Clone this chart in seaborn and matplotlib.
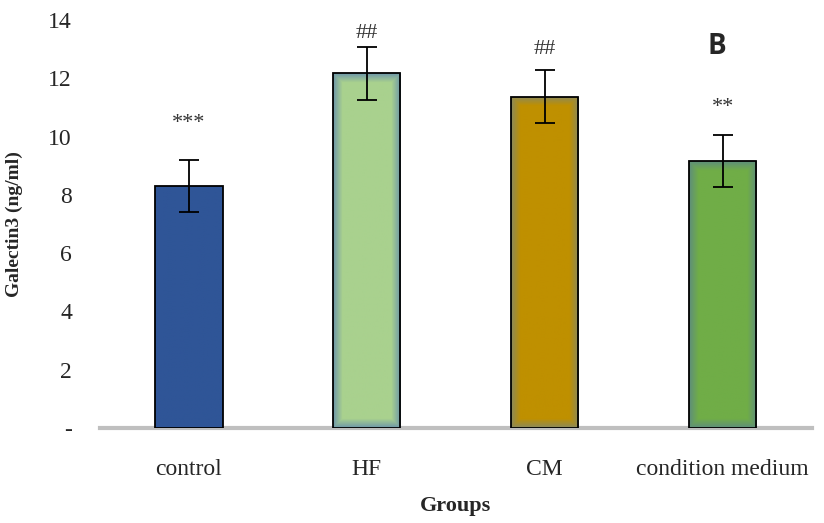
import matplotlib.pyplot as plt
import matplotlib.colors as mcolors
import numpy as np
import pandas as pd
import seaborn as sns

# data
groups = ['control', 'HF', 'CM', 'condition medium']
means = [8.30, 12.17, 11.37, 9.16]
errors = [0.90, 0.92, 0.92, 0.90]
marks = ['***', '##', '##', '**']
mark_y = [10.45, 13.55, 13.0, 11.0]
centre_colors = ['#2f5597', '#a9d18e', '#bf9000', '#70ad47']
edge_colors = ['#2f5597', '#6f98a8', '#8c8a5a', '#5f8f7a']

df = pd.DataFrame({'group': groups, 'value': means})

sns.set_style('white')
plt.rcParams['font.family'] = ['Liberation Serif', 'DejaVu Serif']

fig = plt.figure(figsize=(8.24, 5.23), dpi=100)
ax = fig.add_axes([0.121, 0.1816, 0.864, 0.7802])

sns.barplot(data=df, x='group', y='value', hue='group', palette=centre_colors,
            width=0.38, legend=False, ax=ax, edgecolor='black', linewidth=1.3,
            zorder=2)

ax.set_xlim(-0.5, 3.5)
ax.set_ylim(0, 14)

# gradient fill: centre colour fading to a blue-grey edge, fade measured in pixels
fig.canvas.draw()
fade = 9.0
for patch, c0, c1 in zip(ax.patches, centre_colors, edge_colors):
    bb = patch.get_window_extent()
    nx, ny = max(int(bb.width), 2), max(int(bb.height), 2)
    px = np.minimum(np.arange(nx), nx - 1 - np.arange(nx))
    py = np.minimum(np.arange(ny), ny - 1 - np.arange(ny))
    d = np.minimum.outer(py, px)
    w = np.clip(d / fade, 0, 1)[..., None]
    a = np.array(mcolors.to_rgb(c0))
    b = np.array(mcolors.to_rgb(c1))
    img = b + (a - b) * w
    x0, y0 = patch.get_x(), patch.get_y()
    im = ax.imshow(img, extent=[x0, x0 + patch.get_width(), y0, y0 + patch.get_height()],
                   aspect='auto', zorder=2.5, interpolation='bilinear')
    im.set_clip_path(patch)
    patch.set_facecolor('none')
    patch.set_zorder(3)
ax.set_xlim(-0.5, 3.5)
ax.set_ylim(0, 14)

ax.errorbar(range(len(groups)), means, yerr=errors, fmt='none', ecolor='black',
            elinewidth=1.3, capsize=7, capthick=1.3, zorder=4)

for i, (m, y) in enumerate(zip(marks, mark_y)):
    ax.text(i, y, m, ha='center', va='center', fontsize=16, color='#333333')

ax.text(2.97, 13.1, 'B', ha='center', va='center', fontsize=20, fontweight='bold',
        family=['Open Sans', 'DejaVu Sans'])

ax.set_yticks(range(0, 15, 2))
ax.set_yticklabels(['-'] + [str(v) for v in range(2, 15, 2)])
ax.tick_params(axis='y', length=0, labelsize=17, pad=20)
ax.tick_params(axis='x', length=0, labelsize=17, pad=22)

for s in ['left', 'right', 'top']:
    ax.spines[s].set_visible(False)
ax.spines['bottom'].set_color('#bfbfbf')
ax.spines['bottom'].set_linewidth(3)
ax.spines['bottom'].set_zorder(1)

ax.set_xlabel('Groups', fontsize=16, fontweight='bold', labelpad=12)
ax.set_ylabel('Galectin3 (ng/ml)', fontsize=14, fontweight='bold')
ax.yaxis.set_label_coords(-0.108, 0.5)

fig.savefig('out.png', dpi=100)
